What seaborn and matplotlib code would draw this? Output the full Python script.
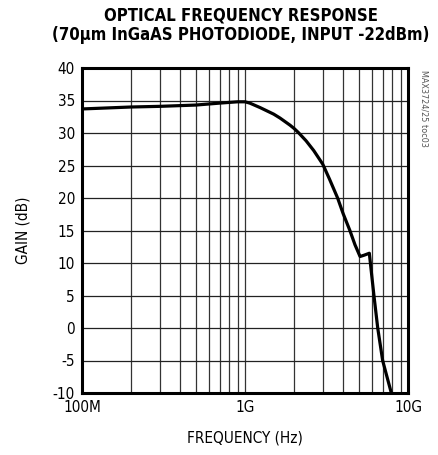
import numpy as np
import pandas as pd
import matplotlib
matplotlib.use("Agg")
import matplotlib.pyplot as plt
import seaborn as sns

# Valores (frequência em Hz, ganho em dB)
freq_hz = [1.0e8, 2.0e8, 3.0e8, 5.0e8, 7.0e8, 9.0e8, 1.0e9, 1.07e9, 1.24e9,
           1.5e9, 1.64e9, 1.89e9, 2.0e9, 2.12e9, 2.37e9, 2.64e9, 3.0e9, 3.3e9,
           3.7e9, 4.0e9, 4.4e9, 4.73e9, 5.08e9, 5.38e9, 5.79e9, 6.18e9, 6.52e9,
           6.99e9, 7.43e9, 7.94e9]
gain_db = [33.7, 34.0, 34.1, 34.3, 34.6, 34.8, 34.8, 34.6, 33.9,
           32.9, 32.3, 31.2, 30.7, 30.1, 28.8, 27.3, 25.2, 22.9,
           20.0, 17.6, 15.0, 12.8, 11.0, 11.2, 11.5, 5.0, 0.0,
           -5.0, -7.5, -10.2]

x_ticks = [1e8, 1e9, 1e10]
x_tick_labels = ["100M", "1G", "10G"]
y_ticks = list(range(-10, 41, 5))

df = pd.DataFrame({"freq": freq_hz, "gain": gain_db})

sns.set_theme(style="white")
plt.rcParams['font.family'] = ['DejaVu Sans']
plt.rcParams['font.stretch'] = 'condensed'
plt.rcParams['axes.unicode_minus'] = False
plt.rcParams['text.color'] = 'black'
plt.rcParams['axes.labelcolor'] = 'black'

fig = plt.figure(figsize=(4.39, 4.55), dpi=100)
ax = fig.add_axes([82 / 439, 1 - 393 / 455, 326 / 439, 325 / 455])

sns.lineplot(data=df, x="freq", y="gain", ax=ax, color="black", linewidth=2.3,
             sort=False, clip_on=True)

ax.set_xscale("log")
ax.set_xlim(1e8, 1e10)
ax.set_ylim(-10, 40)

# grade
minors = [m * 10 ** e for e in (8, 9) for m in range(2, 10)]
for f in minors + [1e9]:
    ax.axvline(f, color="#333333", linewidth=0.9, zorder=0)
for g in y_ticks[1:-1]:
    ax.axhline(g, color="#222222", linewidth=0.9, zorder=0)

ax.set_xticks(x_ticks)
ax.set_xticklabels(x_tick_labels)
ax.set_xticks([], minor=True)
ax.set_yticks(y_ticks)
ax.tick_params(axis="both", labelsize=11, length=0, pad=5, colors="black")

for s in ax.spines.values():
    s.set_visible(True)
    s.set_color("black")
    s.set_linewidth(2.2)

ax.set_xlabel("FREQUENCY (Hz)", fontsize=11, labelpad=11)
ax.set_ylabel("GAIN (dB)", fontsize=11, labelpad=16)

fig.text(241 / 439, 0.985, "OPTICAL FREQUENCY RESPONSE\n(70\u03bcm InGaAS PHOTODIODE, INPUT -22dBm)",
         ha="center", va="top", fontsize=12, fontweight="bold", linespacing=1.1)
fig.text(424 / 439, 1 - 70 / 455, "MAX3724/25 toc03", rotation=270, ha="center",
         va="top", fontsize=6.5, color="#555555")

fig.savefig("out.png", dpi=100)
